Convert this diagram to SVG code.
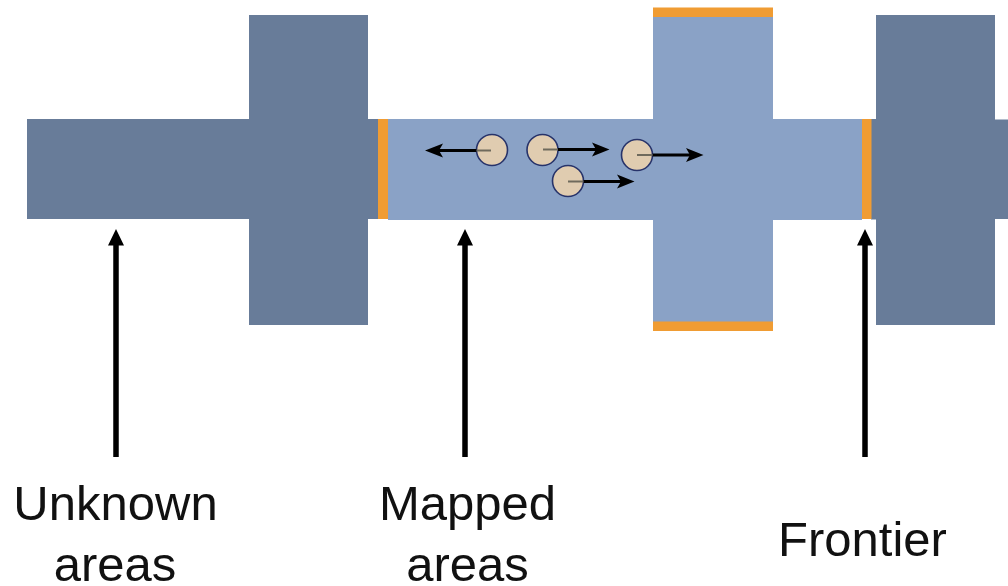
<svg xmlns="http://www.w3.org/2000/svg" width="1008" height="586" viewBox="0 0 1008 586">
<style>
.dark{fill:#687c99}
.mapped{fill:#8aa2c6}
.front{fill:#f09c33}
.bot{fill:#e0ccb0;stroke:#27336a;stroke-width:1.6}
.stem{fill:none;stroke:#000;stroke-width:2.8}
.stemin{fill:none;stroke:#6f6a5c;stroke-width:2}
.call{fill:none;stroke:#000;stroke-width:5.5}
.tip{fill:#000}
text{font-family:"Liberation Sans",Arial,sans-serif;font-size:49px;fill:#111;text-anchor:middle}
</style>
<rect width="1008" height="586" fill="#fff"/>
<g id="unknown-left">
<path class="dark" d="M27 119H249V15H368V119H378V219H368V325H249V219H27Z"/>
</g>
<g id="unknown-right">
<path class="dark" d="M871 119H876V15H995V119.500H1008V219H995V325H876V219.500H871Z"/>
</g>
<g id="mapped-area">
<path class="mapped" d="M388 119H653V15H773V119H862V220H773V325H653V220H388Z"/>
</g>
<g id="frontier-left"><rect class="front" x="378" y="119" width="10" height="100"/></g>
<g id="frontier-right"><rect class="front" x="862" y="119" width="9.500" height="100"/></g>
<g id="frontier-top"><rect class="front" x="653" y="7.500" width="120" height="9.500"/></g>
<g id="frontier-bottom"><rect class="front" x="653" y="321.500" width="120" height="9.500"/></g>
<g id="robot-1"><circle class="bot" cx="492" cy="150" r="15.500"/></g>
<g id="robot-2"><circle class="bot" cx="542.500" cy="150" r="15.500"/></g>
<g id="robot-3"><circle class="bot" cx="637" cy="155" r="15.500"/></g>
<g id="robot-4"><circle class="bot" cx="568" cy="181" r="15.500"/></g>
<g id="connectors">
<path class="stem" d="M476.500 150.500H438M558 149.500H596M652.500 155H690M583.500 181.500H621"/>
<path class="stemin" d="M491 150.500H476.500M543 149.500H558M637 155H652.500M568 181.500H583.500"/>
<path class="tip" d="M425 150.500L443 143.500L439 150.500L443 157.500ZM609.500 149.500L592 142.500L596 149.500L592 156.500ZM703.500 155L686 148L690 155L686 162ZM634.500 181.500L617 174.500L621 181.500L617 188.500Z"/>
<path class="call" d="M116 457V243M465 457V243M865 457V243"/>
<path class="tip" d="M116 229L124 245.500H108ZM465 229L473 245.500H457ZM865 229L873 245.500H857Z"/>
</g>
<g id="label-unknown"><text x="115.500" y="520">Unknown</text><text x="115" y="581">areas</text></g>
<g id="label-mapped"><text x="467.500" y="520">Mapped</text><text x="467.500" y="581">areas</text></g>
<g id="label-frontier"><text x="862.500" y="556">Frontier</text></g>
</svg>
